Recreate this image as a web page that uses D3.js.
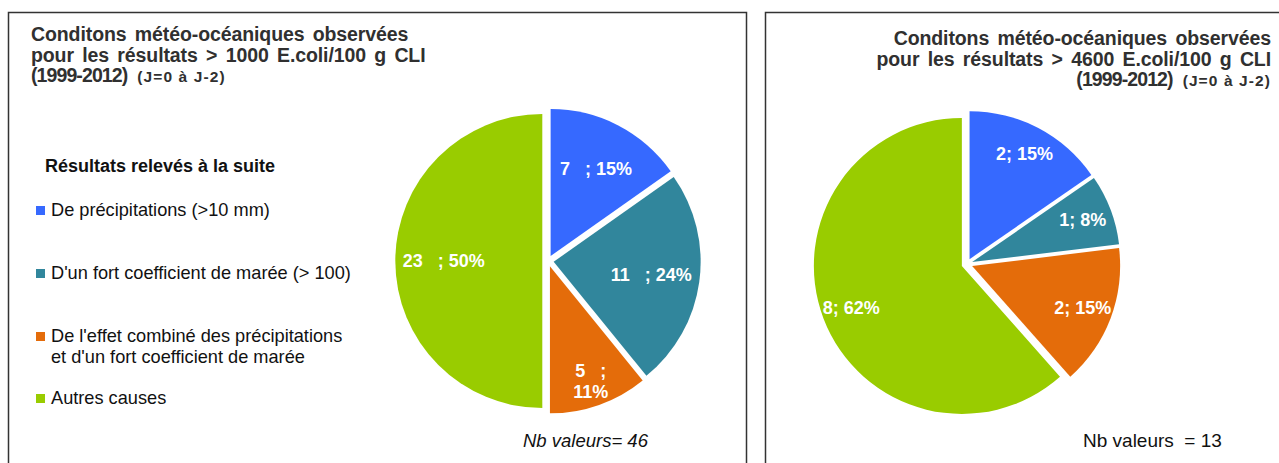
<!DOCTYPE html>
<html>
  <head>
    <meta charset="utf-8">
    <title>Conditions météo-océaniques</title>
    <script src="https://cdn.jsdelivr.net/npm/d3@7"></script>
    <style>
      body { margin: 0; background: #fff; }
      text { font-family: "Liberation Sans", Arial, sans-serif; }
    </style>
  </head>
  <body>
    <svg id="graphique"></svg>
    <script>
      // données
      var categories = [
        "De précipitations (>10 mm)",
        "D'un fort coefficient de marée (> 100)",
        "De l'effet combiné des précipitations|et d'un fort coefficient de marée",
        "Autres causes"
      ];
      var valeurs1000 = [7, 11, 5, 23];
      var valeurs4600 = [2, 1, 2, 8];
      var couleurs = ["#3669ff", "#31869c", "#e46c0a", "#99cc00"];
      var titre1000 = ["Conditons météo-océaniques observées", "pour les résultats > 1000 E.coli/100 g CLI", "(1999-2012)"];
      var titre4600 = ["Conditons météo-océaniques observées", "pour les résultats > 4600 E.coli/100 g CLI", "(1999-2012)"];
      var sousTitre = "(J=0 à J-2)";

      var largeur = 1279, hauteur = 463;
      var svg = d3.select("#graphique").attr("width", largeur).attr("height", hauteur);

      // cadres
      svg.append("rect").attr("x", 8.5).attr("y", 12.5).attr("width", 738).attr("height", 470)
        .attr("fill", "none").attr("stroke", "#333").attr("stroke-width", 1.5);
      svg.append("rect").attr("x", 765.5).attr("y", 12.5).attr("width", 540).attr("height", 470)
        .attr("fill", "none").attr("stroke", "#333").attr("stroke-width", 1.5);

      function titre(lignes, x, y0, ancre) {
        var t = svg.append("g");
        lignes.forEach(function(l, i) {
          var derniere = i == lignes.length - 1;
          var txt = t.append("text")
            .attr("x", x).attr("y", y0 + i * 20.5)
            .attr("text-anchor", ancre)
            .attr("font-size", 19.5).attr("font-weight", "bold")
            .attr("fill", "#303030");
          txt.append("tspan")
            .attr("letter-spacing", derniere ? -0.9 : -0.1)
            .attr("word-spacing", 3)
            .text(l);
          if (derniere) {
            txt.append("tspan").attr("dx", 10).attr("font-size", 15.5)
              .attr("letter-spacing", 1.1).text(sousTitre);
          }
        });
      }
      titre(titre1000, 31, 41, "start");
      titre(titre4600, 1271, 45, "end");

      // légende
      var legende = svg.append("g");
      legende.append("text").attr("x", 45).attr("y", 172)
        .attr("font-size", 18).attr("font-weight", "bold").attr("fill", "#111")
        .text("Résultats relevés à la suite");
      var yLeg = [216, 279, 342, 404];
      categories.forEach(function(c, i) {
        legende.append("rect").attr("x", 36).attr("y", yLeg[i] - 10).attr("width", 9).attr("height", 9)
          .attr("fill", couleurs[i]);
        var t = legende.append("text").attr("x", 51).attr("y", yLeg[i])
          .attr("font-size", 18.2).attr("fill", "#111");
        c.split("|").forEach(function(part, j) {
          t.append("tspan").attr("x", 51).attr("dy", j == 0 ? 0 : 20.5).text(part);
        });
      });

      function camembert(valeurs, cx, cy, r, sep, rLabel, format) {
        var total = d3.sum(valeurs);
        var pie = d3.pie().sort(null).value(function(d) { return d; });
        var arc = d3.arc().innerRadius(0).outerRadius(r);
        var g = svg.append("g").attr("transform", "translate(" + cx + "," + cy + ")");
        var parts = g.selectAll("g.part").data(pie(valeurs)).enter().append("g")
          .attr("transform", function(d) {
            var a = (d.startAngle + d.endAngle) / 2;
            return "translate(" + (Math.sin(a) * sep) + "," + (-Math.cos(a) * sep) + ")";
          });
        parts.append("path").attr("d", arc).attr("fill", function(d, i) { return couleurs[i]; });
        parts.each(function(d, i) {
          var pct = Math.round(d.value / total * 100) + "%";
          var lignes = format(d.value, pct, d);
          var rl = r * rLabel(d, lignes);
          var a = (d.startAngle + d.endAngle) / 2;
          var t = d3.select(this).append("text")
            .attr("text-anchor", "middle")
            .attr("font-size", 18).attr("font-weight", "bold").attr("fill", "#fff")
            .style("white-space", "pre");
          lignes.forEach(function(l, j) {
            t.append("tspan").attr("x", Math.sin(a) * rl)
              .attr("y", -Math.cos(a) * rl + 6 + (j - (lignes.length - 1) / 2) * 21)
              .text(l);
          });
        });
      }

      camembert(valeurs1000, 548, 261, 147, 5.7,
        function(d, lignes) { return lignes.length > 1 ? 0.83 : 0.67; },
        function(v, pct, d) {
          return (d.endAngle - d.startAngle) < 0.75 ? [v + "   ;", pct] : [v + "   ; " + pct];
        });
      camembert(valeurs4600, 967, 264, 148, 5.5,
        function() { return 0.8; },
        function(v, pct) { return [v + "; " + pct]; });

      svg.append("text").attr("x", 523).attr("y", 447)
        .attr("font-size", 18.5).attr("font-style", "italic").attr("fill", "#111")
        .style("white-space", "pre")
        .text("Nb valeurs= " + d3.sum(valeurs1000));
      svg.append("text").attr("x", 1083).attr("y", 447)
        .attr("font-size", 19).attr("fill", "#111")
        .style("white-space", "pre")
        .text("Nb valeurs  = " + d3.sum(valeurs4600));
    </script>
  </body>
</html>
